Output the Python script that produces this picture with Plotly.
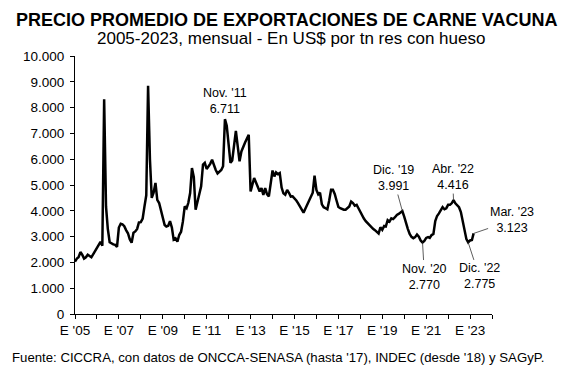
import pandas as pd
import plotly.graph_objects as go

# ---- data (US$ per tn, monthly, Jan 2005 .. Mar 2023) ----
p2005 = [2030, 2150, 2200, 2400, 2300, 2150, 2200, 2300, 2250, 2200, 2320, 2450]
p2006 = [2600, 2720, 2800, 2650, 8320, 4170, 3300, 2780, 2720, 2700, 2680, 2600]
p2007 = [3350, 3500, 3480, 3400, 3250, 3130, 2900, 2760, 3150, 3200, 3300, 3550]
p2008 = [3560, 3700, 4150, 4600, 8850, 6000, 4500, 4700, 5080, 4420, 4300, 4000]
p2009 = [3700, 3450, 3390, 3420, 3600, 3350, 2880, 2930, 2800, 3060, 3190, 3580]
p2010 = [4170, 4100, 4300, 4690, 5660, 5300, 4040, 4350, 4600, 4950, 5790, 5860]
p2011 = [5620, 5720, 5820, 5980, 5760, 5580, 5450, 5530, 5580, 5730, 7550, 7300]
p2012 = [6600, 5860, 5950, 6500, 7100, 6500, 5920, 6300, 6500, 6650, 6800, 6950]
p2013 = [4750, 5080, 5270, 5100, 4950, 4750, 4880, 4620, 4880, 4650, 4560, 5000]
p2014 = [5560, 5330, 5490, 5420, 5460, 4900, 4680, 4620, 4810, 4700, 4550, 4560]
p2015 = [4490, 4400, 4300, 4160, 4050, 3930, 4080, 4230, 4400, 4550, 4700, 5360]
p2016 = [4810, 4640, 4700, 4250, 4140, 4100, 4060, 4400, 4820, 4820, 4650, 4400]
p2017 = [4150, 4100, 4060, 4040, 4040, 4100, 4170, 4360, 4300, 4200, 4230, 4100]
p2018 = [3960, 3800, 3700, 3600, 3520, 3450, 3380, 3300, 3250, 3200, 3120, 3360]
p2019 = [3260, 3410, 3390, 3640, 3580, 3710, 3680, 3750, 3840, 3880, 3930, 3991]
p2020 = [3770, 3500, 3300, 3100, 2990, 2940, 2980, 3080, 3000, 2850, 2770, 2830]
p2021 = [2950, 2980, 2950, 3060, 3100, 3600, 3800, 3900, 4040, 4140, 4060, 4100]
p2022 = [4230, 4230, 4290, 4416, 4290, 4230, 4140, 3950, 3550, 3150, 2900, 2775]
p2023 = [2850, 2870, 3123]

precio = (p2005 + p2006 + p2007 + p2008 + p2009 + p2010 + p2011 + p2012 + p2013
          + p2014 + p2015 + p2016 + p2017 + p2018 + p2019 + p2020 + p2021 + p2022 + p2023)
meses = pd.date_range("2005-01-01", periods=len(precio), freq="MS")

# x tick labels (every January, labelled every two years)
tick_years = list(range(2005, 2025))
tick_labels = [f"E '{str(y)[2:]}" if (y - 2005) % 2 == 0 and y < 2024 else "" for y in tick_years]

# y tick labels
y_ticks = [0, 1000, 2000, 3000, 4000, 5000, 6000, 7000, 8000, 9000, 10000]
y_labels = ["0", "1.000", "2.000", "3.000", "4.000", "5.000", "6.000", "7.000", "8.000", "9.000", "10.000"]

# highlighted points
ann_dates = ["2011-11-01", "2019-12-01", "2022-04-01", "2023-03-01", "2020-11-01", "2022-12-01"]
ann_names = ["Nov. '11", "Dic. '19", "Abr. '22", "Mar. '23", "Nov. '20", "Dic. '22"]
ann_values = ["6.711", "3.991", "4.416", "3.123", "2.770", "2.775"]

FONT = "Liberation Sans, Arial, sans-serif"

fig = go.Figure()
fig.add_trace(go.Scatter(x=meses, y=precio, mode="lines",
                         line=dict(color="black", width=2.5), hoverinfo="skip"))

# annotation offsets (pixels) for each highlighted point
offsets = [None, (-9, -33), (-1, -23), (38, -13), (2, 34), (11, 34)]
series = pd.Series(precio, index=meses)
for d, name, val, off in zip(ann_dates, ann_names, ann_values, offsets):
    yv = series[pd.Timestamp(d)]
    if off is None:
        fig.add_annotation(x=d, y=yv, text=f"{name}<br>{val}", showarrow=False,
                           yanchor="bottom", yshift=1, align="center",
                           font=dict(family=FONT, size=12.5, color="black"))
    else:
        fig.add_annotation(x=d, y=yv, text=f"{name}<br>{val}", showarrow=True,
                           ax=off[0], ay=off[1], arrowhead=0, arrowwidth=0.8,
                           arrowcolor="#333333", standoff=0, align="center",
                           font=dict(family=FONT, size=12.5, color="black"))

# titles and source
fig.add_annotation(xref="paper", yref="paper", x=0.508, y=1.139, xanchor="center", yanchor="middle",
                   text="<b>PRECIO PROMEDIO DE EXPORTACIONES DE CARNE VACUNA</b>", showarrow=False,
                   font=dict(family=FONT, size=18, color="black"))
fig.add_annotation(xref="paper", yref="paper", x=0.518, y=1.066, xanchor="center", yanchor="middle",
                   text="2005-2023, mensual - En US$ por tn res con hueso", showarrow=False,
                   font=dict(family=FONT, size=17, color="black"))
fig.add_annotation(xref="paper", yref="paper", x=-0.155, y=-0.168, xanchor="left", yanchor="middle",
                   text="Fuente: CICCRA, con datos de ONCCA-SENASA (hasta '17), INDEC (desde '18) y SAGyP.",
                   showarrow=False, font=dict(family=FONT, size=13.2, color="black"))

fig.update_layout(
    width=576, height=375,
    margin=dict(l=75, r=84, t=56, b=61),
    paper_bgcolor="white", plot_bgcolor="white",
    showlegend=False,
    font=dict(family=FONT, color="black"),
)
fig.update_xaxes(
    type="date", range=["2005-01-01", "2024-01-01"],
    tickvals=[f"{y}-01-01" for y in tick_years], ticktext=tick_labels,
    showline=True, linecolor="black", linewidth=1,
    ticks="outside", ticklen=4, tickcolor="black", tickwidth=1,
    showgrid=False, zeroline=False,
    tickfont=dict(family=FONT, size=13.5, color="black"),
)
fig.update_yaxes(
    range=[0, 10000], tickvals=y_ticks, ticktext=y_labels,
    showline=True, linecolor="black", linewidth=1,
    ticks="outside", ticklen=4, tickcolor="black", tickwidth=1,
    showgrid=False, zeroline=False, ticklabelstandoff=3,
    tickfont=dict(family=FONT, size=13.5, color="black"),
)

fig.write_html("out.html", config={"displayModeBar": False},
               post_script="document.body.style.margin='0';")
